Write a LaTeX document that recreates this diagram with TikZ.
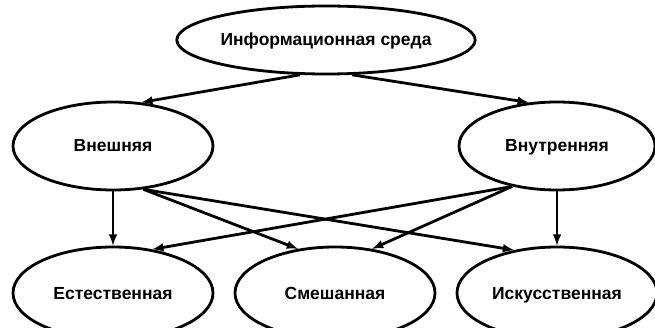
\documentclass[tikz,border=0pt]{standalone}
\usepackage{fontspec}
\setmainfont{Liberation Sans}
\usetikzlibrary{shapes,arrows}

\begin{document}
\begin{tikzpicture}[x=1pt,y=-1pt,line width=2.8pt,>=latex,
  env/.style={ellipse,draw,minimum width=200pt,minimum height=88pt,inner sep=0pt,
    text height=12pt,text depth=0pt,font=\fontsize{17.5}{20}\selectfont\bfseries}]
\useasboundingbox (0,0) rectangle (655,328);
\node[env,minimum width=292pt,minimum height=68pt] (info) at (326,40) {Информационная среда};
\node[env] (ext) at (113,146) {Внешняя};
\node[env,minimum width=196pt] (int) at (557,146) {Внутренняя};
\node[env,minimum height=92pt] (nat) at (113,293) {Естественная};
\node[env,minimum height=92pt] (mix) at (335,293) {Смешанная};
\node[env,minimum height=92pt] (art) at (557,293) {Искусственная};
\draw[->] (info.233) -- (ext.57);
\draw[->] (info.307) -- (int.123);
\draw[->] (ext.south) -- (nat.north);
\draw[->] (ext.305) -- (mix.130);
\draw[->] (ext.305) -- (art.135);
\draw[->] (int.south) -- (art.north);
\draw[->] (int.222) -- (mix.50);
\draw[->] (int.222) -- (nat.48);
\end{tikzpicture}
\end{document}
